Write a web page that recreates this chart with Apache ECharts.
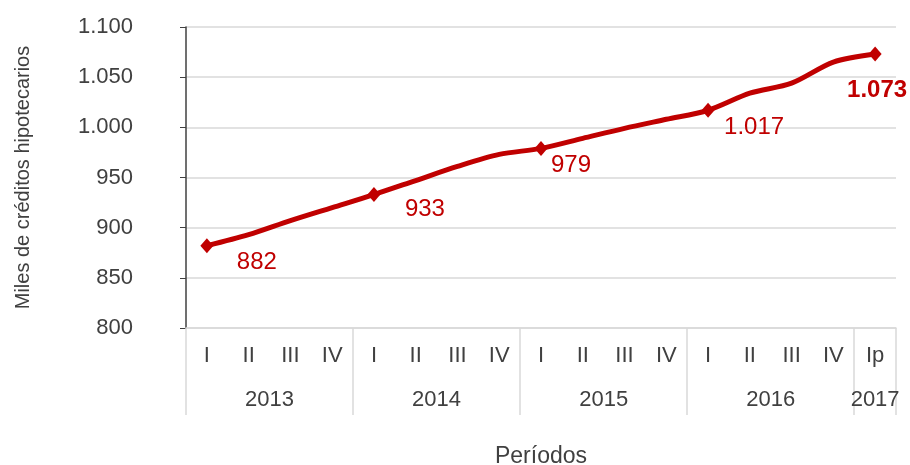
<!DOCTYPE html>
<html>
<head>
<meta charset="utf-8">
<script src="https://cdn.jsdelivr.net/npm/echarts@6/dist/echarts.min.js"></script>
<style>
  html, body { margin: 0; padding: 0; background: #fff; }
  #chart { width: 910px; height: 465px; }
</style>
</head>
<body>
<div id="chart"></div>
<script>
// datos: créditos hipotecarios (miles), trimestral
const quarters = ['I', 'II', 'III', 'IV', 'I', 'II', 'III', 'IV', 'I', 'II', 'III', 'IV', 'I', 'II', 'III', 'IV', 'Ip'];
const years = ['2013', '2014', '2015', '2016', '2017'];
const quartersPerYear = [4, 4, 4, 4, 1];
const credits = [882, 893, 907, 920, 933, 947, 961, 973, 979, 989, 999, 1008, 1017, 1034, 1044, 1065, 1073];
// trimestres con marcador y etiqueta
const labelledIdx = [0, 4, 8, 12, 16];

const RED = '#C00000';
const TEXT = '#404040';
const GRID = '#d9d9d9';
const FONT = '"Liberation Sans", Arial, sans-serif';

// 1073 -> "1.073"
const fmt = v => v >= 1000 ? Math.floor(v / 1000) + '.' + String(v % 1000).padStart(3, '0') : String(v);

// límites y centros de cada año sobre un eje 0..17
const bounds = [0];
quartersPerYear.forEach(n => bounds.push(bounds[bounds.length - 1] + n));
const yearCenters = quartersPerYear.map((n, i) => bounds[i] + n / 2);

const labelOffsets = {
  0: [50, 17],
  4: [51, 15],
  8: [30, 17],
  12: [46, 17],
  16: [2, 36],
};

const seriesData = credits.map((v, i) => {
  if (labelledIdx.indexOf(i) < 0) {
    return { value: v, symbol: 'none' };
  }
  const last = i === credits.length - 1;
  return {
    value: v,
    symbol: 'diamond',
    symbolSize: [13, 15],
    label: {
      show: true,
      position: 'inside',
      offset: labelOffsets[i],
      formatter: p => fmt(p.value),
      color: RED,
      fontSize: 24,
      fontWeight: last ? 'bold' : 'normal',
      fontFamily: FONT,
    },
  };
});

const chart = echarts.init(document.getElementById('chart'));

chart.setOption({
  animation: false,
  grid: { left: 186, right: 14, top: 27, bottom: 137, outerBoundsMode: 'none' },
  xAxis: [
    {
      type: 'category',
      data: quarters,
      boundaryGap: true,
      axisLine: { lineStyle: { color: GRID, width: 1.5 } },
      axisTick: { show: false },
      axisLabel: {
        interval: 0,
        margin: 17,
        color: TEXT,
        fontSize: 22,
        fontFamily: FONT,
      },
      name: 'Períodos',
      nameLocation: 'middle',
      nameGap: 117,
      nameTextStyle: { color: TEXT, fontSize: 23, fontFamily: FONT },
    },
    {
      // segundo nivel: años y separadores
      type: 'value',
      min: 0,
      max: quarters.length,
      position: 'bottom',
      axisLine: { show: false },
      splitLine: { show: false },
      axisTick: {
        show: true,
        customValues: bounds,
        length: 87,
        lineStyle: { color: GRID, width: 1.5 },
      },
      axisLabel: {
        customValues: yearCenters,
        margin: 61,
        color: TEXT,
        fontSize: 22,
        fontFamily: FONT,
        formatter: v => {
          const i = yearCenters.indexOf(v);
          return i >= 0 ? years[i] : '';
        },
      },
    },
  ],
  yAxis: {
    type: 'value',
    min: 800,
    max: 1100,
    interval: 50,
    axisLine: { show: true, lineStyle: { color: '#404040', width: 1.5 } },
    axisTick: { show: true, length: 6, lineStyle: { color: '#404040' } },
    splitLine: { lineStyle: { color: GRID, width: 1.5 } },
    axisLabel: {
      margin: 53,
      color: TEXT,
      fontSize: 22,
      fontFamily: FONT,
      formatter: v => fmt(v),
    },
    name: 'Miles de créditos hipotecarios',
    nameLocation: 'middle',
    nameGap: 153,
    nameTextStyle: { color: TEXT, fontSize: 20, fontFamily: FONT },
  },
  series: [
    {
      type: 'line',
      xAxisIndex: 0,
      data: seriesData,
      smooth: 0.3,
      showAllSymbol: true,
      lineStyle: { color: RED, width: 5 },
      itemStyle: { color: RED },
    },
  ],
});
</script>
</body>
</html>
